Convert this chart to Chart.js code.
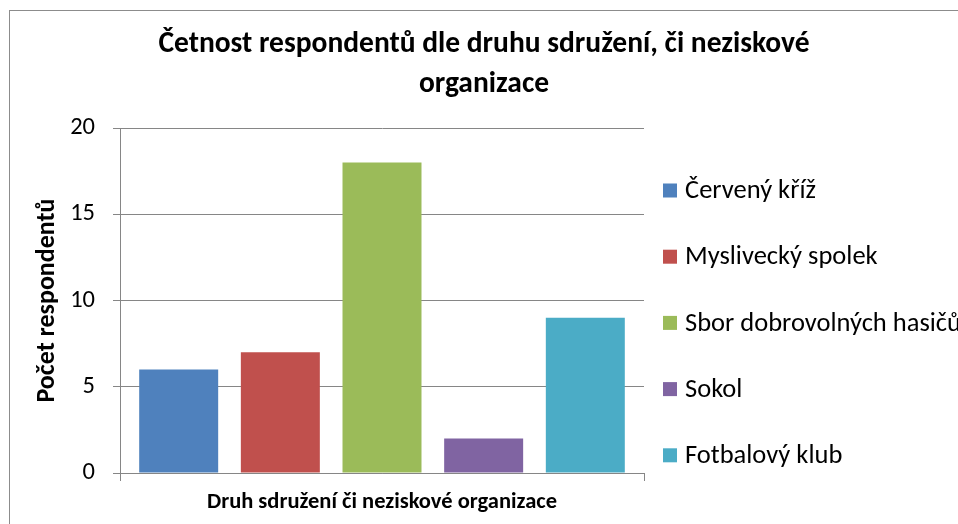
<!DOCTYPE html>
<html>
<head>
<meta charset="utf-8">
<script src="https://cdn.jsdelivr.net/npm/chart.js@4"></script>
<style>
  html, body { margin: 0; padding: 0; background: #fff; overflow: hidden; }
  #wrap { position: relative; width: 958px; height: 524px; overflow: hidden; }
  #frame { position: absolute; left: 9px; top: 10px; width: 1100px; height: 700px; border: 1px solid #8c8c8c; }
  canvas { position: absolute; left: 0; top: 0; }
</style>
</head>
<body>
<div id="wrap">
  <div id="frame"></div>
  <canvas id="chart1" width="958" height="524"></canvas>
</div>
<script>
const categories = ['']
const seriesNames = ['Červený kříž', 'Myslivecký spolek', 'Sbor dobrovolných hasičů', 'Sokol', 'Fotbalový klub']
const seriesValues = [6, 7, 18, 2, 9]
const seriesColors = ['#4F81BD', '#C0504D', '#9BBB59', '#8064A2', '#4BACC6']
const yTicks = [0, 5, 10, 15, 20]

const fontFamily = "Carlito, 'Open Sans', sans-serif"
const gridColor = '#868686'

// legend drawn by hand so it can run off the right edge like the original
const sideLegend = {
  id: 'sideLegend',
  afterDraw(chart) {
    const ctx = chart.ctx
    ctx.save()
    ctx.font = '26.5px ' + fontFamily
    ctx.textBaseline = 'middle'
    ctx.textAlign = 'left'
    chart.data.datasets.forEach((ds, i) => {
      const y = 190.5 + i * 66.2
      ctx.fillStyle = ds.backgroundColor
      ctx.fillRect(663, y - 7, 14, 14)
      ctx.fillStyle = '#000'
      ctx.fillText(ds.label, 685, y + 1)
    })
    ctx.restore()
  }
}

new Chart(document.getElementById('chart1'), {
  type: 'bar',
  data: {
    labels: categories,
    datasets: seriesNames.map((name, i) => ({
      label: name,
      data: [seriesValues[i]],
      backgroundColor: seriesColors[i],
      categoryPercentage: 0.97,
      barPercentage: 0.777
    }))
  },
  options: {
    responsive: false,
    animation: false,
    layout: { padding: { left: 10, right: 0, top: 0, bottom: 0 } },
    plugins: {
      legend: { display: false },
      tooltip: { enabled: false },
      title: {
        display: true,
        text: ['Četnost respondentů dle druhu sdružení, či neziskové', 'organizace'],
        color: '#000',
        font: { family: fontFamily, size: 29.5, weight: 'bold', lineHeight: 40 / 29.5 },
        padding: { top: 25, bottom: 23 }
      }
    },
    scales: {
      x: {
        grid: { drawOnChartArea: false, drawTicks: true, tickLength: 8, color: gridColor },
        border: { color: gridColor },
        ticks: { display: false },
        title: {
          display: true,
          text: 'Druh sdružení či neziskové organizace',
          color: '#000',
          font: { family: fontFamily, size: 22.5, weight: 'bold' },
          padding: { top: 0, bottom: 8.5 }
        },
        afterFit(scale) { scale.height = 51 }
      },
      y: {
        min: 0,
        max: 20,
        afterBuildTicks(scale) { scale.ticks = yTicks.map(v => ({ value: v })) },
        grid: { color: gridColor, tickLength: 7 },
        border: { color: gridColor },
        ticks: { color: '#000', padding: 18, font: { family: fontFamily, size: 24.5 } },
        title: {
          display: true,
          text: 'Počet respondentů',
          color: '#000',
          font: { family: fontFamily, size: 26, weight: 'bold' },
          padding: { top: 21.5, bottom: 0 }
        },
        afterFit(scale) { scale.width = 110 }
      },
      // empty axis that only keeps room for the legend on the right
      legendSpace: {
        position: 'right',
        grid: { display: false },
        border: { display: false },
        ticks: { display: false },
        afterFit(scale) { scale.width = 314 }
      }
    }
  },
  plugins: [sideLegend]
});
</script>
</body>
</html>
